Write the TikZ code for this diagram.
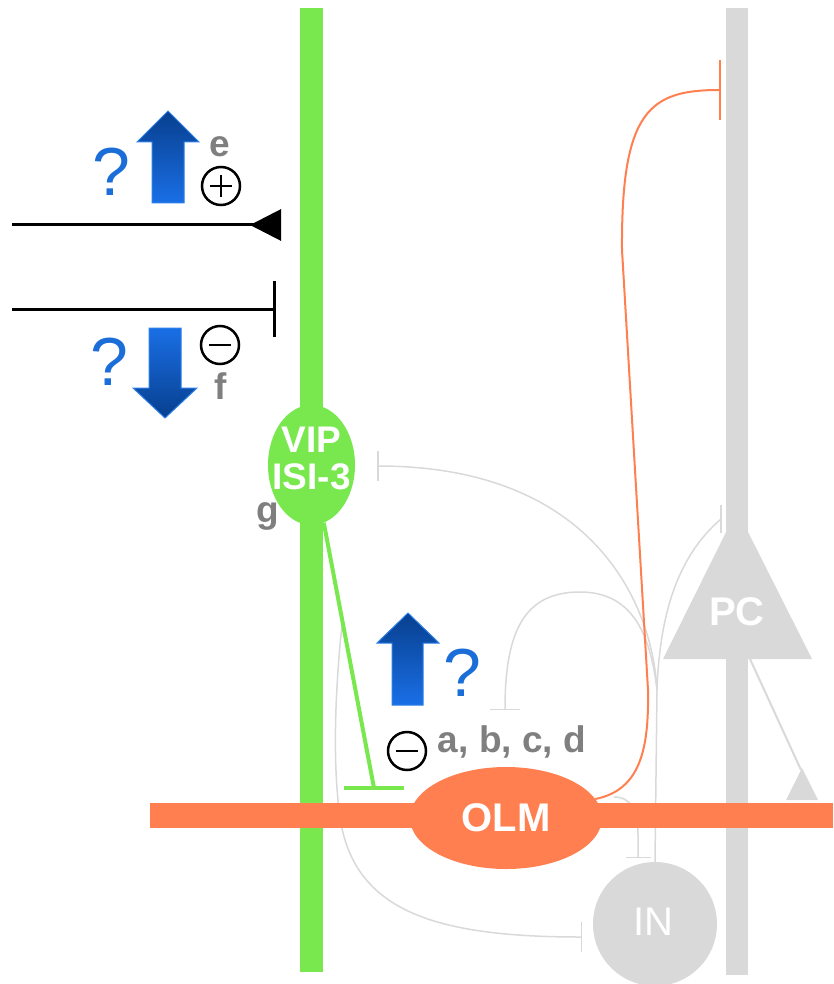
\documentclass[tikz,border=0pt]{standalone}
\usepackage{fontspec}
\setmainfont{Liberation Sans}
\usetikzlibrary{shapes.geometric,arrows.meta,calc}
\definecolor{vipgreen}{HTML}{79E84F}
\definecolor{olmorange}{HTML}{FF7F50}
\definecolor{cellgrey}{HTML}{D9D9D9}
\definecolor{labelgrey}{HTML}{7F7F7F}
\definecolor{qblue}{HTML}{1B6ED8}
\definecolor{arrowdark}{HTML}{073F8E}
\definecolor{arrowmid}{HTML}{1058C4}
\definecolor{arrowlight}{HTML}{1A6FE6}
\definecolor{arrowedge}{HTML}{2C80E8}
\begin{document}
\begin{tikzpicture}[x=1pt,y=-1pt,
  cellname/.style={text=white, font=\bfseries\fontsize{40}{40}\selectfont, inner sep=0pt},
  refname/.style={text=labelgrey, font=\bfseries\fontsize{37}{37}\selectfont, inner sep=0pt},
  query/.style={text=qblue, font=\fontsize{68}{68}\selectfont, inner sep=0pt},
  sign/.style={draw, circle, line width=2.5pt, minimum size=38pt, inner sep=0pt},
  greyaxon/.style={cellgrey, line width=1.5pt},
  bigarrow/.style={draw=arrowedge, line width=1pt},
]
\useasboundingbox (0,0) rectangle (833,984);

% dendrites of VIP and PC
\draw[vipgreen, line width=23pt] (311.5,8) -- (311.5,972);
\draw[cellgrey, line width=22pt] (737,8) -- (737,975);
\fill[cellgrey] (663,659) -- (737,510) -- (812,659) -- cycle;
\node[cellname] (pc) at (737,612) {PC};
\coordinate (pcaxon) at (750,659);
\coordinate (pcsyn) at (801,770);
\fill[cellgrey] (786,800) -- (802,768) -- (818,800) -- cycle;
\draw[cellgrey, line width=2pt] (pcaxon) -- (pcsyn);

% cell bodies
\node[ellipse, fill=vipgreen, minimum width=87pt, minimum height=120pt, inner sep=0pt] (vip) at (311.5,465) {};
\node[circle, fill=cellgrey, minimum size=124pt, inner sep=0pt] (in) at (655,924) {};
\node[text=white, font=\fontsize{40}{40}\selectfont, inner sep=0pt] (inname) at (653,922) {IN};

% IN axon
\coordinate (inbranch) at (657,690);
\coordinate (pcbar) at (721,519);
\draw[greyaxon] (in.north) -- (inbranch);
\draw[greyaxon, -{Bar[width=30pt]}] (inbranch) .. controls (652,600) and (590,466) .. (377,466);
\draw[greyaxon, -{Bar[width=30pt]}] (inbranch) .. controls (650,630) and (630,592) .. (580,592) .. controls (525,592) and (505,630) .. (505,710);
\draw[greyaxon] (inbranch) .. controls (660,600) and (685,550) .. (pcbar);
\draw[greyaxon] ([yshift=14pt]pcbar) -- ([yshift=-14pt]pcbar);

% VIP branch to IN
\coordinate (vipsyn) at (374,788);
\coordinate (vipbranch) at ($(vip.-78)!0.37!(vipsyn)$);
\draw[greyaxon, -{Bar[width=30pt]}] (vipbranch) .. controls (334,700) and (334,760) .. (338,800) .. controls (345,905) and (420,937) .. (582,937);

% OLM branch to IN
\coordinate (olmbranch) at (614,797);
\draw[greyaxon, -{Bar[width=25pt]}] (olmbranch) .. controls (632,797) and (638,812) .. (638,835) -- (638,858);

% OLM
\draw[olmorange, line width=25pt] (150,815.5) -- (833,815.5);
\node[ellipse, fill=olmorange, minimum width=192pt, minimum height=102pt, cellname] (olm) at (506,818) {OLM};
\draw[olmorange, line width=2pt, -{Bar[width=60pt]}] (olm.12) .. controls (640,790) and (649,750) .. (648,690) -- (622,250) .. controls (621,110) and (650,90) .. (721,90);

% VIP axon onto OLM
\draw[vipgreen, line width=4pt] (vip.-78) -- (vipsyn);
\draw[vipgreen, line width=4pt] ([xshift=-30pt]vipsyn) -- ([xshift=30pt]vipsyn);
\node[cellname, font=\bfseries\fontsize{37}{37}\selectfont, align=center] (vipname) at ([yshift=7pt]vip.center) {VIP\\ISI-3};

% inputs
\coordinate (excstart) at (12,225);
\coordinate (excend) at (281,225);
\draw[line width=3pt, -{Triangle[reversed, length=31pt, width=31pt]}] (excstart) -- (excend);
\coordinate (inhstart) at (12,309);
\coordinate (inhend) at (276,309);
\draw[line width=3pt, -{Bar[width=56pt, line width=3pt]}] (inhstart) -- (inhend);

% big arrows
\shade[bigarrow, top color=arrowdark, middle color=arrowmid, bottom color=arrowlight] (152,203) -- (152,142) -- (137,142) -- (168,111) -- (199,142) -- (184,142) -- (184,203) -- cycle;
\shade[bigarrow, top color=arrowlight, middle color=arrowmid, bottom color=arrowdark] (149,328) -- (181,328) -- (181,388) -- (197,388) -- (165,418) -- (133,388) -- (149,388) -- cycle;
\shade[bigarrow, top color=arrowdark, middle color=arrowmid, bottom color=arrowlight] (392,705) -- (392,643) -- (377,643) -- (408,613) -- (439,643) -- (423,643) -- (423,705) -- cycle;

% question marks
\node[query] (qe) at (111,172) {?};
\node[query] (qf) at (109,362) {?};
\node[query] (qolm) at (462,673) {?};

% signs
\node[sign] (plus) at (221,186) {};
\draw[line width=2.5pt] ([xshift=-11pt]plus.center) -- ([xshift=11pt]plus.center) ([yshift=-11pt]plus.center) -- ([yshift=11pt]plus.center);
\node[sign] (minusf) at (220,345) {};
\draw[line width=2.5pt] ([xshift=-11pt]minusf.center) -- ([xshift=11pt]minusf.center);
\node[sign] (minusolm) at (407,751) {};
\draw[line width=2.5pt] ([xshift=-11pt]minusolm.center) -- ([xshift=11pt]minusolm.center);

% reference letters
\node[refname] (labele) at (220,147) {e};
\node[refname] (labelf) at (221,386) {f};
\node[refname] (labelg) at (268,516) {g};
\node[refname, anchor=base] (labelabcd) at (512,752) {a, b, c, d};
\end{tikzpicture}
\end{document}
